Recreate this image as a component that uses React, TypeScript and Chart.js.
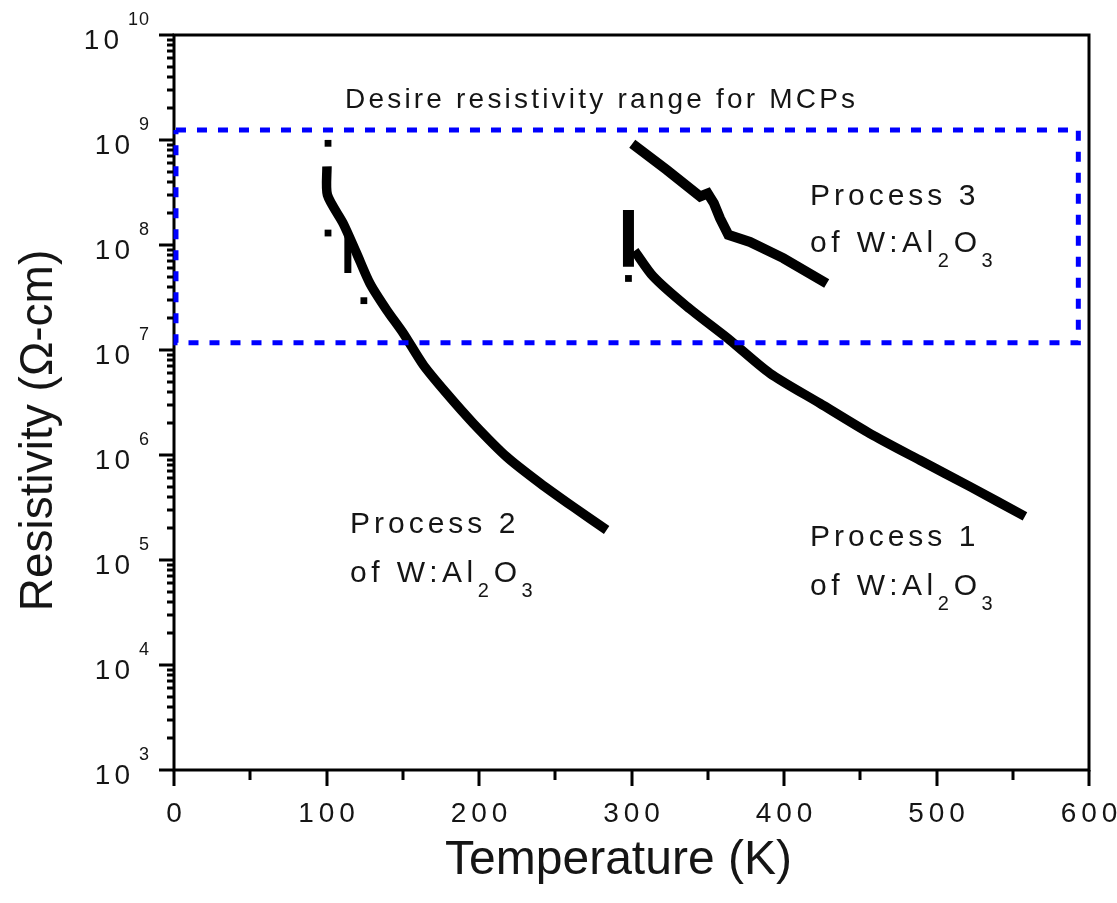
import React, { useEffect, useRef } from 'react';
import { Chart, registerables } from 'chart.js';

Chart.register(...registerables);

// ---- axis ticks ----
const xMajorTicks = [0, 100, 200, 300, 400, 500, 600];
const xMinorTicks = [50, 150, 250, 350, 450, 550];
const yExponents = [3, 4, 5, 6, 7, 8, 9, 10];
const yMinorMultipliers = [2, 3, 4, 5, 6, 7, 8, 9];

// ---- Process 1 ----
const p1Temp = [302, 314.3, 336.2, 364.6, 390.8, 423.6, 456.4, 489.2, 522, 558];
const p1Res = [8.8e7, 5.0e7, 2.6e7, 1.24e7, 6.0e6, 3.1e6, 1.6e6, 8.9e5, 5.0e5, 2.6e5];
const p1SpikeTemp = [298, 298];
const p1SpikeRes = [2.15e8, 6.2e7];
const p1DotTemp = [298];
const p1DotRes = [4.8e7];

// ---- Process 2 ----
const p2Temp = [100.3, 100.6, 111, 119.8, 128.5, 139.5, 150.4, 163.5, 178.8, 196.3, 218.2, 240, 261.8, 283.7];
const p2Res = [5.6e8, 3.0e8, 1.6e8, 8.3e7, 4.3e7, 2.4e7, 1.44e7, 7.2e6, 3.86e6, 2.0e6, 9.6e5, 5.4e5, 3.2e5, 1.93e5];
const p2SpikeTemp = [114, 114];
const p2SpikeRes = [1.3e8, 5.4e7];
const p2DotTemp = [101, 101, 124.5];
const p2DotRes = [9.3e8, 1.3e8, 2.95e7];

// ---- Process 3 ----
const p3Temp = [300.5, 323, 345, 350, 354, 358, 363.5, 377.7, 399.5, 428];
const p3Res = [9.2e8, 5.2e8, 2.9e8, 3.1e8, 2.5e8, 1.8e8, 1.25e8, 1.07e8, 7.5e7, 4.3e7];

// ---- desired resistivity range box ----
const rangeTemp = [1.3, 593, 593, 1.3, 1.3];
const rangeRes = [1.245e9, 1.245e9, 1.17e7, 1.17e7, 1.245e9];

// ---- texts ----
const xTitle = 'Temperature (K)';
const yTitle = 'Resistivity (Ω-cm)';
const rangeLabel = 'Desire resistivity range for MCPs';
const processLabels = ['Process 1', 'Process 2', 'Process 3'];

const FONT = '"Liberation Sans", Arial, Helvetica, sans-serif';

const zip = (xs: number[], ys: number[]) => xs.map((x, i) => ({ x, y: ys[i] }));

function lineSet(xs: number[], ys: number[], width: number, tension: number) {
  return {
    data: zip(xs, ys),
    showLine: true,
    borderColor: '#000',
    backgroundColor: '#000',
    borderWidth: width,
    pointRadius: 0,
    fill: false,
    tension,
  };
}

function dotSet(xs: number[], ys: number[]) {
  return {
    data: zip(xs, ys),
    showLine: false,
    pointStyle: 'rect',
    pointRadius: 4.8,
    backgroundColor: '#000',
    borderWidth: 0,
  };
}

function drawFormula(ctx: CanvasRenderingContext2D, x: number, y: number) {
  const parts: [string, boolean][] = [
    ['of W:Al', false],
    ['2', true],
    ['O', false],
    ['3', true],
  ];
  let cx = x;
  for (const [t, sub] of parts) {
    ctx.font = sub ? `20px ${FONT}` : `30px ${FONT}`;
    ctx.letterSpacing = sub ? '3px' : '4.5px';
    ctx.fillText(t, cx, sub ? y + 15 : y);
    cx += ctx.measureText(t).width + (sub ? 2 : 0);
  }
}

const framePlugin = {
  id: 'framePlugin',
  beforeDatasetsDraw(chart: any) {
    const ctx: CanvasRenderingContext2D = chart.ctx;
    const { left, right, top, bottom } = chart.chartArea;
    const xs = chart.scales.x;
    const ys = chart.scales.y;
    ctx.save();
    ctx.strokeStyle = '#000';
    ctx.lineWidth = 3;
    ctx.strokeRect(left, top, right - left, bottom - top);
    ctx.beginPath();
    for (const v of xMajorTicks) {
      const px = Math.round(xs.getPixelForValue(v));
      ctx.moveTo(px, bottom);
      ctx.lineTo(px, bottom + 16);
    }
    for (const v of xMinorTicks) {
      const px = Math.round(xs.getPixelForValue(v));
      ctx.moveTo(px, bottom);
      ctx.lineTo(px, bottom + 10);
    }
    for (const e of yExponents) {
      const py = Math.round(ys.getPixelForValue(Math.pow(10, e)));
      ctx.moveTo(left, py);
      ctx.lineTo(left - 15, py);
      if (e < 10) {
        for (const m of yMinorMultipliers) {
          const pm = Math.round(ys.getPixelForValue(m * Math.pow(10, e)));
          ctx.moveTo(left, pm);
          ctx.lineTo(left - 7, pm);
        }
      }
    }
    ctx.stroke();
    ctx.restore();
  },
  afterDraw(chart: any) {
    const ctx: CanvasRenderingContext2D = chart.ctx;
    const { left, right, bottom } = chart.chartArea;
    const xs = chart.scales.x;
    const ys = chart.scales.y;
    ctx.save();
    ctx.fillStyle = '#151515';
    ctx.textBaseline = 'alphabetic';

    // x tick labels
    ctx.font = `28px ${FONT}`;
    ctx.letterSpacing = '5px';
    ctx.textAlign = 'center';
    for (const v of xMajorTicks) {
      const px = xs.getPixelForValue(v);
      ctx.fillText(String(v), px + 2.5, bottom + 52);
    }

    // y tick labels 10^n
    for (const e of yExponents) {
      const py = ys.getPixelForValue(Math.pow(10, e));
      ctx.textAlign = 'right';
      ctx.font = `18px ${FONT}`;
      ctx.letterSpacing = '1px';
      const sup = String(e);
      const supRight = left - 25;
      ctx.fillText(sup, supRight + 1, py - 10);
      const sw = ctx.measureText(sup).width;
      ctx.font = `28px ${FONT}`;
      ctx.letterSpacing = '4px';
      ctx.fillText('10', supRight - sw - 4, py + 14);
    }

    // axis titles
    ctx.letterSpacing = '0px';
    ctx.font = `48px ${FONT}`;
    ctx.textAlign = 'center';
    ctx.fillText(xTitle, (left + right) / 2 - 13, bottom + 104);
    ctx.font = `46px ${FONT}`;
    ctx.save();
    ctx.translate(52, (ys.top + ys.bottom) / 2 + 28);
    ctx.rotate(-Math.PI / 2);
    ctx.fillText(yTitle, 0, 0);
    ctx.restore();

    // annotations
    ctx.textAlign = 'left';
    ctx.font = `28px ${FONT}`;
    ctx.letterSpacing = '3.2px';
    ctx.fillText(rangeLabel, 345, 108);

    // Process 1
    ctx.font = `30px ${FONT}`;
    ctx.letterSpacing = '4px';
    ctx.fillText(processLabels[0], 810, 546);
    drawFormula(ctx, 810, 595);
    // Process 2
    ctx.font = `30px ${FONT}`;
    ctx.letterSpacing = '4px';
    ctx.fillText(processLabels[1], 350, 533);
    drawFormula(ctx, 350, 582);
    // Process 3
    ctx.font = `30px ${FONT}`;
    ctx.letterSpacing = '4px';
    ctx.fillText(processLabels[2], 810, 205);
    drawFormula(ctx, 810, 252);

    ctx.restore();
  },
};

export default function App() {
  const ref = useRef<HTMLCanvasElement>(null);

  useEffect(() => {
    document.body.style.margin = '0';
    const canvas = ref.current;
    if (!canvas) return;
    const chart = new Chart(canvas, {
      type: 'scatter',
      data: {
        datasets: [
          {
            data: zip(rangeTemp, rangeRes),
            showLine: true,
            borderColor: '#0000ff',
            borderWidth: 5,
            borderDash: [10, 11],
            pointRadius: 0,
            fill: false,
            clip: false,
          } as any,
          lineSet(p2Temp, p2Res, 9.5, 0.25),
          lineSet(p2SpikeTemp, p2SpikeRes, 7, 0),
          dotSet(p2DotTemp, p2DotRes),
          lineSet(p1Temp, p1Res, 9.5, 0.25),
          lineSet(p1SpikeTemp, p1SpikeRes, 11, 0),
          dotSet(p1DotTemp, p1DotRes),
          lineSet(p3Temp, p3Res, 10, 0),
        ] as any,
      },
      options: {
        animation: false,
        responsive: false,
        devicePixelRatio: 1,
        layout: { padding: { left: 0, right: 28, top: 35, bottom: 0 } },
        plugins: {
          legend: { display: false },
          tooltip: { enabled: false },
        },
        scales: {
          x: {
            type: 'linear',
            min: 0,
            max: 600,
            grid: { display: false },
            border: { display: false },
            ticks: { display: false },
            afterFit(s: any) {
              s.height = 133;
            },
          },
          y: {
            type: 'logarithmic',
            min: 1e3,
            max: 1e10,
            grid: { display: false },
            border: { display: false },
            ticks: { display: false },
            afterFit(s: any) {
              s.width = 174;
            },
          },
        },
      } as any,
      plugins: [framePlugin],
    });
    return () => chart.destroy();
  }, []);

  return (
    <div style={{ position: 'absolute', left: 0, top: 0, width: 1117, height: 903, background: '#fff' }}>
      <canvas ref={ref} width={1117} height={903} style={{ width: 1117, height: 903 }} />
    </div>
  );
}
